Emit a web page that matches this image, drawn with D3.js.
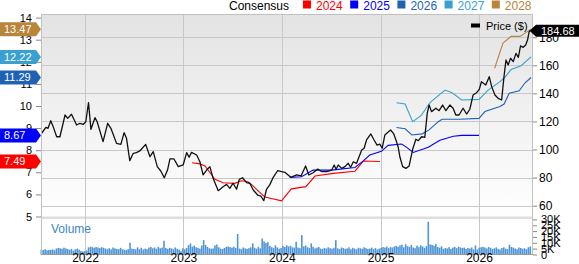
<!DOCTYPE html>
<html>
<head>
<meta charset="utf-8">
<script src="https://cdn.jsdelivr.net/npm/d3@7"></script>
<style>
body { margin: 0; background: #fff; }
svg { display: block; font-family: "Liberation Sans", Arial, sans-serif; }
</style>
</head>
<body>
<svg id="chart" width="579" height="264"></svg>
<script>
// price, weekly-ish closes
var price = [
["2021-07-24",111.6],["2021-08-09",115.8],["2021-08-17",115.1],["2021-08-27",120.5],["2021-09-05",116.3],
["2021-09-18",109.1],["2021-09-30",109.1],["2021-10-19",124.6],["2021-10-29",122.2],["2021-11-12",125.1],
["2021-12-01",117.5],["2021-12-13",118.7],["2021-12-26",118.0],["2022-01-04",119.8],["2022-01-14",133.4],
["2022-01-23",114.4],["2022-02-07",122.7],["2022-02-15",119.8],["2022-03-09",105.6],["2022-03-26",118.7],
["2022-04-07",115.1],["2022-04-28",104.4],["2022-05-14",103.7],["2022-05-26",112.0],["2022-06-04",108.0],
["2022-06-16",92.1],["2022-06-29",97.3],["2022-07-11",97.8],["2022-07-23",99.0],["2022-08-14",103.7],
["2022-08-30",94.9],["2022-09-11",98.5],["2022-09-26",87.8],["2022-10-09",84.7],["2022-10-22",79.9],
["2022-11-03",85.4],["2022-11-12",93.3],["2022-11-27",93.3],["2022-12-13",87.8],["2022-12-31",89.0],
["2023-01-13",97.8],["2023-01-22",94.5],["2023-01-31",98.0],["2023-02-19",96.1],["2023-03-03",91.3],
["2023-03-15",81.9],["2023-03-28",85.4],["2023-04-09",87.8],["2023-04-21",79.5],["2023-05-10",70.7],
["2023-05-28",73.5],["2023-06-10",75.2],["2023-06-22",72.4],["2023-07-04",76.0],["2023-07-17",71.7],
["2023-07-27",78.8],["2023-08-08",79.9],["2023-08-23",76.4],["2023-09-04",76.0],["2023-09-17",71.2],
["2023-10-03",67.6],["2023-10-15",66.9],["2023-10-26",63.6],["2023-11-05",71.7],["2023-11-18",75.2],
["2023-11-30",80.2],["2023-12-16",84.9],["2023-12-31",84.2],["2024-01-12",83.8],["2024-02-03",80.2],
["2024-02-25",81.9],["2024-03-12",81.2],["2024-03-29",88.3],["2024-04-10",81.9],["2024-04-26",83.5],
["2024-05-13",86.1],["2024-05-28",84.2],["2024-06-15",84.2],["2024-07-04",85.4],["2024-07-13",89.0],
["2024-07-20",85.9],["2024-07-28",89.0],["2024-08-10",86.6],["2024-08-22",87.8],["2024-09-03",90.2],
["2024-09-12",87.4],["2024-09-22",91.3],["2024-10-04",90.2],["2024-10-23",99.7],["2024-11-01",100.9],
["2024-11-10",106.8],["2024-11-26",111.1],["2024-12-08",106.8],["2024-12-19",103.2],["2024-12-29",103.9],
["2025-01-07",100.9],["2025-01-17",110.4],["2025-01-26",112.0],["2025-02-07",113.9],["2025-02-19",111.1],
["2025-02-27",106.8],["2025-03-07",102.0],["2025-03-14",94.5],["2025-03-24",87.8],["2025-04-05",86.6],
["2025-04-17",88.3],["2025-04-30",100.2],["2025-05-12",107.3],["2025-05-21",106.3],["2025-06-02",109.1],
["2025-06-14",108.7],["2025-06-23",125.8],["2025-06-30",131.7],["2025-07-09",127.0],["2025-07-25",129.4],
["2025-08-06",127.7],["2025-08-19",131.7],["2025-08-31",127.7],["2025-09-15",131.7],["2025-09-27",129.4],
["2025-10-07",124.6],["2025-10-19",124.6],["2025-11-03",129.4],["2025-11-16",125.3],["2025-11-28",128.7],
["2025-12-10",138.8],["2025-12-23",140.5],["2026-01-02",142.9],["2026-01-10",148.3],["2026-01-26",146.0],
["2026-02-08",151.9],["2026-02-17",144.8],["2026-03-01",138.8],["2026-03-13",136.5],["2026-03-26",135.3],
["2026-04-03",150.7],["2026-04-11",163.8],["2026-04-19",160.2],["2026-04-28",165.0],["2026-05-08",162.6],
["2026-05-18",168.5],["2026-05-27",165.7],["2026-06-04",173.8],["2026-06-14",172.8],["2026-06-23",174.5],
["2026-06-30",178.0],["2026-07-06",183.9],["2026-07-09",184.68]
];

// consensus EPS per fiscal year
var eps2024 = [["2023-02-02",7.43],["2023-03-03",7.38],["2023-03-22",7.29],["2023-04-28",6.68],["2023-05-28",6.53],
["2023-07-10",6.50],["2023-08-04",6.62],["2023-08-28",6.57],["2023-09-10",6.45],["2023-10-30",5.88],["2023-12-31",5.71],
["2024-02-05",6.25],["2024-03-30",6.35],["2024-05-03",6.83],["2024-07-10",6.95],["2024-09-28",7.05],["2024-10-29",7.51],
["2024-12-30",7.49]];
var eps2025 = [["2024-01-30",6.77],["2024-03-14",6.80],["2024-04-26",7.10],["2024-07-04",7.10],["2024-09-28",7.22],
["2024-10-29",7.52],["2024-11-22",7.78],["2025-01-04",7.95],["2025-01-29",8.22],["2025-03-20",8.28],["2025-04-08",8.13],
["2025-05-02",7.90],["2025-06-27",8.13],["2025-08-09",8.45],["2025-09-28",8.63],["2025-10-29",8.67],["2026-01-01",8.67]];
var eps2026 = [["2025-03-01",9.03],["2025-04-02",8.97],["2025-04-27",8.69],["2025-06-05",8.74],["2025-06-30",8.92],
["2025-08-03",9.29],["2025-08-17",9.40],["2025-10-22",9.40],["2026-01-01",9.44],["2026-01-23",9.75],["2026-03-20",9.98],
["2026-04-04",10.09],["2026-04-23",10.58],["2026-05-30",10.69],["2026-06-21",11.05],["2026-07-13",11.29]];
var eps2027 = [["2025-03-01",10.15],["2025-04-02",10.09],["2025-04-30",9.29],["2025-05-31",9.56],["2025-07-03",10.15],
["2025-08-28",10.72],["2025-09-23",10.60],["2025-10-29",10.27],["2026-01-01",10.30],["2026-02-04",10.72],["2026-03-20",11.10],
["2026-04-07",11.30],["2026-04-30",11.65],["2026-06-06",11.82],["2026-07-13",12.22]];
var eps2028 = [["2026-02-28",11.71],["2026-03-31",12.85],["2026-04-30",13.15],["2026-06-02",13.15],["2026-07-03",13.40],
["2026-07-13",13.47]];

// weekly volume (thousands), first week starting volStart
var volStart = "2021-07-23";
var volume = [
4.2,3.8,4.5,3.6,4.0,3.9,4.4,3.7,5.1,5.6, 5.3,4.9,5.8,5.2,4.6,4.1,4.8,3.3,4.5,5.0,
4.2,3.0,2.6,2.8,3.5,6.1,6.6,6.3,5.8,6.4, 6.0,5.5,6.2,5.7,5.1,4.6,5.4,4.3,6.0,5.2,
4.8,4.5,5.7,4.4,4.1,3.9,4.6,10.0,5.0,4.7, 4.3,6.1,4.5,5.8,4.2,5.0,4.6,5.9,6.4,5.3,
6.0,4.9,6.6,5.4,5.9,11.7,5.6,4.8,5.7,5.2, 4.5,6.0,4.9,4.2,2.8,5.3,4.4,5.6,8.0,9.4,
6.8,7.5,6.2,5.7,4.9,7.6,12.3,8.2,6.4,5.4, 4.9,5.2,7.8,8.5,6.2,5.0,4.7,5.6,6.5,6.9,
6.3,5.8,6.7,5.5,17.5,5.1,4.6,6.0,5.2,4.8, 5.4,6.2,9.5,5.8,5.0,6.6,5.3,13.7,11.2,9.8,
10.5,7.4,6.3,5.6,7.8,6.1,4.9,5.5,7.2,6.4, 7.9,6.8,7.5,6.2,5.8,10.9,6.0,5.4,16.6,6.9,
7.7,6.2,5.5,9.5,6.6,5.2,5.9,6.3,5.0,4.8, 5.6,5.1,6.2,5.4,4.9,5.7,12.3,5.3,4.6,6.0,
5.5,4.8,5.2,6.1,4.5,5.7,5.0,4.4,5.8,5.3, 4.9,6.2,5.4,4.7,5.1,5.9,4.6,5.5,4.3,5.0,
5.6,6.4,5.9,6.8,5.5,6.3,6.0,6.9,7.4,6.6, 7.8,8.4,6.2,8.8,7.1,6.5,8.2,6.0,5.4,7.6,
6.3,7.9,6.8,5.7,7.2,28.0,8.6,8.3,7.5,8.9, 6.4,5.8,7.0,4.9,5.5,5.2,6.3,4.8,5.9,6.6,
5.4,6.7,6.1,5.5,5.9,4.7,5.6,5.1,6.0,4.4, 7.7,4.3,5.8,6.2,6.5,6.0,5.2,6.4,5.7,4.6,
5.3,6.1,4.8,4.2,5.5,6.2,5.0,4.6,8.3,6.4, 5.9,5.1,4.4,6.0,5.6,4.9,5.3,4.5,6.2,6.8
];

var years = ["2022", "2023", "2024", "2025", "2026"];
var priceTicks = [60, 80, 100, 120, 140, 160, 180];
var epsTicks = [5, 6, 7, 8, 9, 10, 11, 12, 13, 14];
var volTicks = [0, 5, 10, 15, 20, 25, 30];

var seriesNames = ["2024", "2025", "2026", "2027", "2028"];
var seriesColors = ["#ff0000", "#0000ff", "#1f62b4", "#3a9fd1", "#b8853a"];
var seriesData = [eps2024, eps2025, eps2026, eps2027, eps2028];

var width = 579, height = 264;
var plotLeft = 41, plotRight = 533, plotTop = 14, priceBottom = 216.5, volTop = 219, volBottom = 254.5;
var parse = d3.timeParse("%Y-%m-%d");

var x = d3.scaleTime()
    .domain([parse("2022-01-01"), parse("2026-01-01")])
    .range([85, 479]);
var yPrice = d3.scaleLinear().domain([60, 160]).range([205.7, 65.3]);
var yEps = d3.scaleLinear().domain([5, 14]).range([216.5, 17.6]);
var yVol = d3.scaleLinear().domain([0, 30]).range([volBottom, volTop + 0.4]);

const svg = d3.select("#chart");
const defs = svg.append("defs");

const grad = defs.append("linearGradient")
    .attr("id", "bg").attr("x1", 0).attr("y1", 0).attr("x2", 0).attr("y2", 1);
grad.append("stop").attr("offset", "0%").attr("stop-color", "#e3e3e3");
grad.append("stop").attr("offset", "100%").attr("stop-color", "#ffffff");

defs.append("clipPath").attr("id", "clipPrice")
  .append("rect")
    .attr("x", plotLeft).attr("y", plotTop)
    .attr("width", plotRight - plotLeft).attr("height", priceBottom - plotTop);

// panels
svg.append("rect")
    .attr("x", plotLeft).attr("y", plotTop)
    .attr("width", plotRight - plotLeft).attr("height", priceBottom - plotTop)
    .attr("fill", "url(#bg)");
svg.append("rect")
    .attr("x", plotLeft).attr("y", priceBottom)
    .attr("width", plotRight - plotLeft).attr("height", volTop - priceBottom)
    .attr("fill", "#dedede");

// grid
svg.append("g")
    .selectAll("line")
    .data(priceTicks)
    .join("line")
      .attr("x1", plotLeft).attr("x2", plotRight)
      .attr("y1", d => Math.round(yPrice(d)) + 0.5)
      .attr("y2", d => Math.round(yPrice(d)) + 0.5)
      .attr("stroke", "#c8c8c8");

svg.append("g")
    .selectAll("line")
    .data(years)
    .join("line")
      .attr("x1", d => Math.round(x(parse(d + "-01-01"))) + 0.5)
      .attr("x2", d => Math.round(x(parse(d + "-01-01"))) + 0.5)
      .attr("y1", plotTop).attr("y2", volBottom)
      .attr("stroke", "#c8c8c8");

// volume bars
var v0 = parse(volStart);
svg.append("g")
    .selectAll("rect")
    .data(volume)
    .join("rect")
      .attr("x", (d, i) => x(d3.timeDay.offset(v0, 7 * i)) - 0.8)
      .attr("width", 1.6)
      .attr("y", d => yVol(d))
      .attr("height", d => yVol(0) - yVol(d))
      .attr("fill", "#5096d6");

svg.append("text")
    .attr("x", 51).attr("y", 233)
    .attr("font-size", 12)
    .attr("fill", "#3a87c9")
    .text("Volume");

// consensus lines + price
const plot = svg.append("g").attr("clip-path", "url(#clipPrice)");
const epsLine = d3.line()
    .x(d => x(parse(d[0])))
    .y(d => yEps(d[1]));

plot.selectAll(".eps")
    .data(seriesData)
    .join("path")
      .attr("class", "eps")
      .attr("fill", "none")
      .attr("stroke", (d, i) => seriesColors[i])
      .attr("stroke-width", 1.1)
      .attr("d", epsLine);

plot.append("path")
    .datum(price)
    .attr("fill", "none")
    .attr("stroke", "#111")
    .attr("stroke-width", 1.3)
    .attr("stroke-linejoin", "round")
    .attr("d", d3.line().x(d => x(parse(d[0]))).y(d => yPrice(d[1])));

// frame
svg.append("g")
    .attr("fill", "none").attr("stroke", "#c0c0c0")
  .call(g => g.append("rect")
      .attr("x", plotLeft + 0.5).attr("y", plotTop + 0.5)
      .attr("width", plotRight - plotLeft - 1).attr("height", volBottom - plotTop - 0.5))
  .call(g => g.append("line")
      .attr("x1", plotLeft).attr("x2", plotRight)
      .attr("y1", volBottom).attr("y2", volBottom)
      .attr("stroke", "#999"));

// axes
function styleAxis(g) {
    g.select(".domain").remove();
    g.selectAll(".tick line").attr("stroke", "#888");
    g.selectAll("text").attr("fill", "#000").attr("font-family", null);
}

svg.append("g")
    .attr("transform", `translate(${plotLeft},0)`)
    .call(d3.axisLeft(yEps).tickValues(epsTicks).tickSize(5).tickPadding(4))
    .attr("font-size", 11)
    .call(styleAxis);

svg.append("g")
    .attr("transform", `translate(${plotRight},0)`)
    .call(d3.axisRight(yPrice).tickValues(priceTicks).tickSize(4).tickPadding(2))
    .attr("font-size", 12)
    .call(styleAxis);

svg.append("g")
    .attr("transform", `translate(${plotRight},0)`)
    .call(d3.axisRight(yVol).tickValues(volTicks).tickSize(4).tickPadding(4)
        .tickFormat(d => d ? d + "K" : "0"))
    .attr("font-size", 11)
    .call(styleAxis);

svg.append("g")
    .attr("transform", `translate(0,${volBottom})`)
    .call(d3.axisBottom(x).tickValues(years.map(y => parse(y + "-01-01")))
        .tickFormat(d3.timeFormat("%Y")).tickSize(0).tickPadding(0))
    .attr("font-size", 12)
    .call(styleAxis)
    .call(g => g.selectAll("text").attr("dy", null).attr("y", 7.5));

// left value badges
var badges = svg.append("g");
seriesData.forEach(function(s, i) {
    var v = s[s.length - 1][1];
    var yc = yEps(v);
    badges.append("path")
        .attr("d", `M0,${yc - 7}H36L41,${yc}L36,${yc + 7}H0Z`)
        .attr("fill", seriesColors[i]);
    badges.append("text")
        .attr("x", 4).attr("y", yc + 4)
        .attr("font-size", 11).attr("fill", "#fff")
        .text(v.toFixed(2));
});

// last price badge
var last = price[price.length - 1];
var yl = yPrice(last[1]);
svg.append("path")
    .attr("d", `M529.5,${yl}L536,${yl - 6}H579V${yl + 6}H536Z`)
    .attr("fill", "#000");
svg.append("text")
    .attr("x", 541).attr("y", yl + 4)
    .attr("font-size", 11).attr("fill", "#fff")
    .text(last[1].toFixed(2));

// price legend
svg.append("line")
    .attr("x1", 471).attr("x2", 480).attr("y1", 25.5).attr("y2", 25.5)
    .attr("stroke", "#000").attr("stroke-width", 4);
svg.append("text")
    .attr("x", 486).attr("y", 29.5)
    .attr("font-size", 11)
    .text("Price ($)");

// consensus legend
const legend = svg.append("g").attr("font-size", 12);
legend.append("text").attr("x", 229).attr("y", 9.5).text("Consensus");
var lx = 303;
seriesNames.forEach(function(name, i) {
    legend.append("rect")
        .attr("x", lx).attr("y", 0.5).attr("width", 8).attr("height", 8)
        .attr("fill", seriesColors[i]);
    var t = legend.append("text")
        .attr("x", lx + 13).attr("y", 9.5)
        .attr("fill", seriesColors[i])
        .text(name);
    lx += 13 + t.node().getComputedTextLength() + 7.5;
});
</script>
</body>
</html>
